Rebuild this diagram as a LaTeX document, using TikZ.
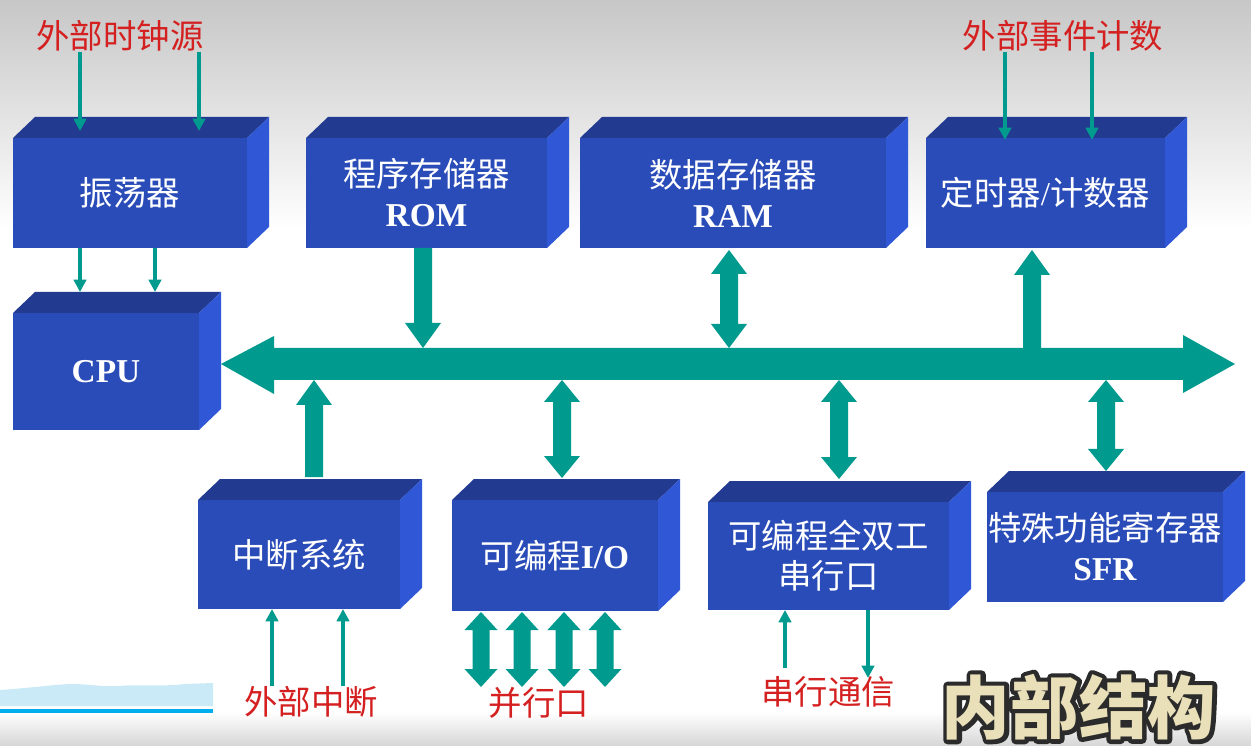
\documentclass[tikz,border=0pt]{standalone}
\usepackage{fontspec}
\setmainfont{Liberation Serif}
\newfontfamily\cjkfont{Noto Sans CJK SC}
\usetikzlibrary{arrows.meta,calc}
\definecolor{frontc}{HTML}{2A4CB8}
\definecolor{topc}{HTML}{223A90}
\definecolor{sidec}{HTML}{2F57D6}
\definecolor{busc}{HTML}{009A8E}
\definecolor{lblred}{HTML}{D42020}
\definecolor{creamc}{HTML}{E9DFB8}
\definecolor{bandc}{HTML}{CBEAF7}
\definecolor{linec}{HTML}{00AEEF}
\newcommand\cj[1]{{\cjkfont #1}}
\tikzset{
  boxtext/.style={text=white, font=\fontsize{19}{22.8}\selectfont, align=center},
  lbl/.style={text=lblred, font=\cjkfont\fontsize{19}{22}\selectfont, inner sep=0pt},
  thinarr/.style={draw=busc, line width=1.8pt, -{Triangle[length=7pt,width=7pt]}},
  titlefont/.style={font=\cjkfont\bfseries\fontsize{39}{40}\selectfont, inner sep=0pt}
}
% name, x1, y1, x2, y2, text  (front face, pixel coordinates)
\newcommand\mkbox[6]{%
  \fill[topc] (#2,#3) -- ++(22,-21) -- (#4+22,#3-21) -- (#4,#3) -- cycle;
  \fill[sidec] (#4,#3) -- (#4+22,#3-21) -- (#4+22,#5-21) -- (#4,#5) -- cycle;
  \node[fill=frontc, inner sep=0pt, outer sep=0pt,
        minimum width={(#4-#2)*0.02cm}, minimum height={(#5-#3)*0.02cm}, boxtext]
        (#1) at ({(#2+#4)/2},{(#3+#5)/2}) {#6};
}
% x, y tip1 (upper), y tip2 (lower), head length, half shaft, half head
\newcommand\fatboth[6]{%
  \fill[busc] (#1,#2) -- (#1+#6,#2+#4) -- (#1+#5,#2+#4) -- (#1+#5,#3-#4) -- (#1+#6,#3-#4)
    -- (#1,#3) -- (#1-#6,#3-#4) -- (#1-#5,#3-#4) -- (#1-#5,#2+#4) -- (#1-#6,#2+#4) -- cycle;
}
% x, y bottom end, y tip (upper)
\newcommand\fatup[3]{%
  \fill[busc] (#1-9,#2) -- (#1-9,#3+25) -- (#1-18,#3+25) -- (#1,#3) -- (#1+18,#3+25)
    -- (#1+9,#3+25) -- (#1+9,#2) -- cycle;
}
% x, y top end, y tip (lower)
\newcommand\fatdown[3]{%
  \fill[busc] (#1-9,#2) -- (#1-9,#3-25) -- (#1-18,#3-25) -- (#1,#3) -- (#1+18,#3-25)
    -- (#1+9,#3-25) -- (#1+9,#2) -- cycle;
}
\begin{document}
\begin{tikzpicture}[x=0.02cm, y=-0.02cm]
\useasboundingbox (0,0) rectangle (1251,746);
% background
\fill[white] (0,0) rectangle (1251,746);
\shade[top color=black!22, bottom color=white] (0,0) rectangle (1251,230);
\shade[top color=white, bottom color=black!16] (0,712) rectangle (1251,746);
% decoration bottom left
\fill[bandc] (0,706) -- (0,690) .. controls (30,688) and (50,685) .. (70,684)
  .. controls (90,684) and (100,687) .. (120,686) .. controls (140,684) and (160,687) .. (185,684)
  -- (213,683) -- (213,706) -- cycle;
\fill[linec] (0,709) rectangle (213,713);

% bus
\fill[busc] (221,364) -- (274,336) -- (274,348) -- (1183,348) -- (1183,335) -- (1235,364)
  -- (1183,393) -- (1183,380) -- (274,380) -- (274,394) -- cycle;

% boxes
\mkbox{osc}{13}{138}{247}{248}{\cj{振荡器}}
\mkbox{cpu}{13}{313}{199}{430}{\bfseries CPU}
\mkbox{rom}{306}{138}{547}{248}{\cj{程序存储器}\\\bfseries ROM}
\mkbox{ram}{580}{138}{886}{248}{\cj{数据存储器}\\\bfseries RAM}
\mkbox{tmr}{926}{138}{1165}{248}{\cj{定时器}/\cj{计数器}}
\mkbox{int}{198}{500}{400}{609}{\cj{中断系统}}
\mkbox{io}{452}{500}{658}{611}{\cj{可编程}\bfseries I/O}
\mkbox{ser}{708}{502}{949}{610}{\cj{可编程全双工}\\\cj{串行口}}
\mkbox{sfr}{987}{492}{1223}{602}{\cj{特殊功能寄存器}\\\bfseries SFR}

% fat arrows between boxes and bus
\fatdown{423}{248}{348}
\fatboth{729}{250}{348}{24}{9}{18}
\fatup{1032}{348}{250}
\fatup{314}{477}{380}
\fatboth{562}{380}{478}{22}{9}{18}
\fatboth{839}{380}{479}{22}{9}{18}
\fatboth{1106}{380}{471}{22}{9}{18}
% parallel port arrows
\fatboth{481}{612}{687}{18}{8.5}{16.5}
\fatboth{522}{612}{687}{18}{8.5}{16.5}
\fatboth{564}{612}{687}{18}{8.5}{16.5}
\fatboth{605}{612}{687}{18}{8.5}{16.5}

% labels
\node[lbl] (clk) at (120,36) {外部时钟源};
\node[lbl] (evt) at (1063,36) {外部事件计数};
\node[lbl] (xint) at (311,702) {外部中断};
\node[lbl] (par) at (539,703) {并行口};
\node[lbl] (com) at (828,692) {串行通信};

% thin arrows
\draw[thinarr] (clk.south -| 80,0) -- (80,131);
\draw[thinarr] (clk.south -| 199,0) -- (199,131);
\draw[thinarr] (osc.south -| 80,0) -- (80,292);
\draw[thinarr] (osc.south -| 155,0) -- (155,292);
\draw[thinarr] (evt.south -| 1005,0) -- (1005,140);
\draw[thinarr] (evt.south -| 1092,0) -- (1092,140);
\draw[thinarr] (xint.north -| 272,0) -- (int.south -| 272,0);
\draw[thinarr] (xint.north -| 343,0) -- (int.south -| 343,0);
\draw[thinarr] (785,668) -- (ser.south -| 785,0);
\draw[thinarr] (ser.south -| 868,0) -- (868,678);

% caption overlay: dark outline (stroked text) under cream text
\node[titlefont, text=black!80] (titleoutline) at (1079,707)
  {\special{pdf:literal direct 1 j 5 w 0.17 0.17 0.17 RG 2 Tr}内部结构\special{pdf:literal direct 0 Tr}};
\node[titlefont, text=creamc] (title) at (1079,707) {内部结构};
\end{tikzpicture}
\end{document}
